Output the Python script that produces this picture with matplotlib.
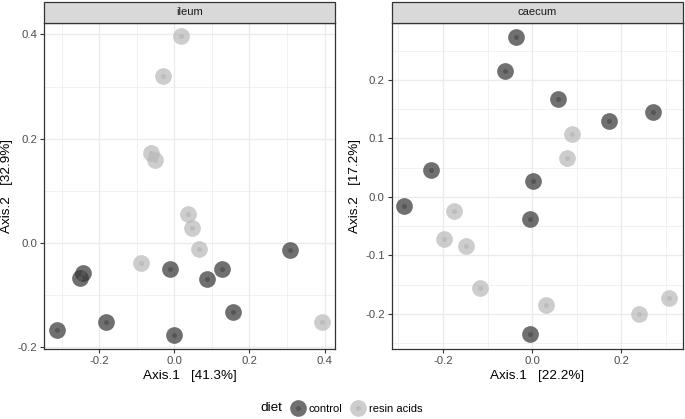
import matplotlib.pyplot as plt
from matplotlib.lines import Line2D
from matplotlib.patches import Rectangle
from matplotlib.ticker import MultipleLocator

plt.rcParams['font.family'] = ['Liberation Sans', 'DejaVu Sans']
plt.rcParams['axes.unicode_minus'] = False

# ileum ordination
ileum_ctrl_x = [-0.012, 0.127, 0.087, 0.308, -0.243, -0.250, 0.155, -0.182, -0.312, 0.000]
ileum_ctrl_y = [-0.049, -0.050, -0.069, -0.013, -0.057, -0.066, -0.133, -0.152, -0.166, -0.176]
ileum_resin_x = [0.018, -0.029, -0.063, -0.051, 0.036, 0.047, 0.066, -0.090, 0.393]
ileum_resin_y = [0.396, 0.320, 0.172, 0.160, 0.055, 0.029, -0.012, -0.038, -0.151]

# caecum ordination
caecum_ctrl_x = [-0.037, -0.060, 0.058, 0.171, 0.270, -0.228, 0.001, -0.287, -0.004, -0.004]
caecum_ctrl_y = [0.274, 0.216, 0.167, 0.130, 0.146, 0.046, 0.028, -0.015, -0.037, -0.235]
caecum_resin_x = [0.090, 0.078, -0.175, -0.198, -0.149, -0.117, 0.031, 0.240, 0.307]
caecum_resin_y = [0.107, 0.067, -0.024, -0.072, -0.084, -0.155, -0.185, -0.201, -0.173]

panels = [
    ('ileum', ileum_ctrl_x, ileum_ctrl_y, ileum_resin_x, ileum_resin_y,
     'Axis.1   [41.3%]', 'Axis.2   [32.9%]', (-0.347, 0.4285), (-0.203, 0.4224), 0.1),
    ('caecum', caecum_ctrl_x, caecum_ctrl_y, caecum_resin_x, caecum_resin_y,
     'Axis.1   [22.2%]', 'Axis.2   [17.2%]', (-0.315, 0.338), (-0.260, 0.298), 0.05),
]

ctrl_col = '#333333'
resin_col = '#b8b8b8'
ctrl_dot = '#565656'
resin_dot = '#bdbdbd'

fig = plt.figure(figsize=(6.85, 4.19), dpi=100)
lefts = [44 / 685, 391.7 / 685]
w = 291.3 / 685
bottom = 1 - 349 / 419
h = (349 - 22.7) / 419

for left, (name, cx, cy, rx, ry, xlab, ylab, xlim, ylim, yminor) in zip(lefts, panels):
    ax = fig.add_axes([left, bottom, w, h])
    ax.set_xlim(*xlim)
    ax.set_ylim(*ylim)
    ax.xaxis.set_major_locator(MultipleLocator(0.2))
    ax.xaxis.set_minor_locator(MultipleLocator(0.1))
    ax.yaxis.set_major_locator(MultipleLocator(yminor * 2))
    ax.yaxis.set_minor_locator(MultipleLocator(yminor))
    ax.grid(which='major', color='#ebebeb', linewidth=1.0)
    ax.grid(which='minor', color='#ebebeb', linewidth=0.5)
    ax.set_axisbelow(True)
    ax.tick_params(which='minor', length=0)
    ax.tick_params(which='major', length=3, width=0.8, color='#333333',
                   labelsize=8.2, labelcolor='#4d4d4d', pad=2)
    for s in ax.spines.values():
        s.set_color('#333333')
        s.set_linewidth(0.9)

    ax.scatter(cx, cy, s=145, color=ctrl_col, alpha=0.7, linewidths=0, zorder=3)
    ax.scatter(rx, ry, s=145, color=resin_col, alpha=0.7, linewidths=0, zorder=3)
    ax.scatter(cx, cy, s=13, color=ctrl_dot, linewidths=0, zorder=4)
    ax.scatter(rx, ry, s=13, color=resin_dot, linewidths=0, zorder=4)

    ax.set_xlabel(xlab, fontsize=9.7, labelpad=3)
    ax.set_ylabel(ylab, fontsize=9.7)
    ax.yaxis.set_label_coords(-0.105, 0.5)

    strip_b = 1 - 22.7 / 419
    strip_h = 20.5 / 419
    fig.patches.append(Rectangle((left, strip_b), w, strip_h, transform=fig.transFigure,
                                 facecolor='#d9d9d9', edgecolor='#333333', linewidth=0.9))
    fig.text(left + w / 2, strip_b + strip_h / 2, name, ha='center', va='center',
             fontsize=8, color='#1a1a1a')

# legend
h_ctrl = (Line2D([], [], marker='o', ls='', ms=12, color=ctrl_col, alpha=0.7, mew=0),
          Line2D([], [], marker='o', ls='', ms=3.6, color=ctrl_dot, mew=0))
h_resin = (Line2D([], [], marker='o', ls='', ms=12, color=resin_col, alpha=0.7, mew=0),
           Line2D([], [], marker='o', ls='', ms=3.6, color=resin_dot, mew=0))
fig.text(282 / 685, 1 - 408 / 419, 'diet', ha='right', va='center', fontsize=9.7)
fig.legend([h_ctrl, h_resin], ['control', 'resin acids'], ncol=2, frameon=False,
           loc='center left', bbox_to_anchor=(293 / 685, 1 - 409 / 419),
           fontsize=8, handlelength=0.9, handletextpad=0.5, columnspacing=1.0,
           borderpad=0, borderaxespad=0)

fig.savefig('out.png', dpi=100)
